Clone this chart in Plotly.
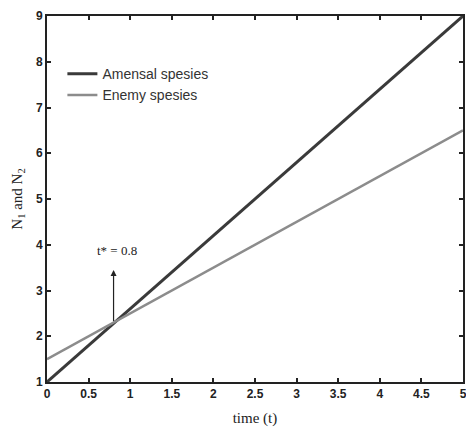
import plotly.graph_objects as go

t = [0, 5]
amensal = [1, 9]
enemy = [1.5, 6.5]
t_star = 0.8
arrow_base = 2.3
arrow_tip = 3.45
label_y = 3.87
x_ticks = [0, 0.5, 1, 1.5, 2, 2.5, 3, 3.5, 4, 4.5, 5]
y_ticks = [1, 2, 3, 4, 5, 6, 7, 8, 9]

fig = go.Figure()
fig.add_trace(go.Scatter(x=t, y=amensal, mode="lines", name="Amensal spesies",
                         line=dict(color="#3a3a3a", width=3)))
fig.add_trace(go.Scatter(x=t, y=enemy, mode="lines", name="Enemy spesies",
                         line=dict(color="#8c8c8c", width=2.5)))

fig.add_annotation(x=t_star, y=arrow_tip, ax=t_star, ay=arrow_base, xref="x", yref="y",
                   axref="x", ayref="y", showarrow=True, arrowhead=2, arrowsize=1,
                   arrowwidth=1.2, arrowcolor="#222", text="")
fig.add_annotation(x=t_star + 0.04, y=label_y, text="t* = 0.8", showarrow=False,
                   font=dict(family="Liberation Serif", size=13, color="#222"))

axis_common = dict(showgrid=False, zeroline=False, showline=True, linecolor="#222",
                   linewidth=2, mirror="ticks", ticks="inside", ticklen=4,
                   tickcolor="#222", tickwidth=1.5, automargin=False,
                   ticklabeloverflow="allow",
                   tickfont=dict(family="Liberation Sans", size=12,
                                 color="#222", weight="bold"))

fig.update_xaxes(range=[0, 5], tickvals=x_ticks, ticktext=[str(v) for v in x_ticks],
                 title=dict(text="time (t)", font=dict(family="Liberation Serif", size=15, color="#222"),
                            standoff=12),
                 **axis_common)
fig.update_yaxes(range=[1, 9], tickvals=y_ticks,
                 title=dict(text="N<sub>1</sub> and N<sub>2</sub>",
                            font=dict(family="Liberation Serif", size=15, color="#222"), standoff=10),
                 **axis_common)

fig.update_layout(
    width=466, height=437,
    margin=dict(l=47, r=3, t=16, b=55),
    paper_bgcolor="white", plot_bgcolor="white",
    showlegend=True,
    legend=dict(x=0.037, y=0.885, xanchor="left", yanchor="top", bgcolor="rgba(0,0,0,0)",
                font=dict(family="Liberation Sans", size=14, color="#333"),
                itemwidth=30, tracegroupgap=0),
)

fig.write_html("out.html", config={"displayModeBar": False},
               post_script="document.body.style.margin='0';document.body.style.overflow='hidden';")
